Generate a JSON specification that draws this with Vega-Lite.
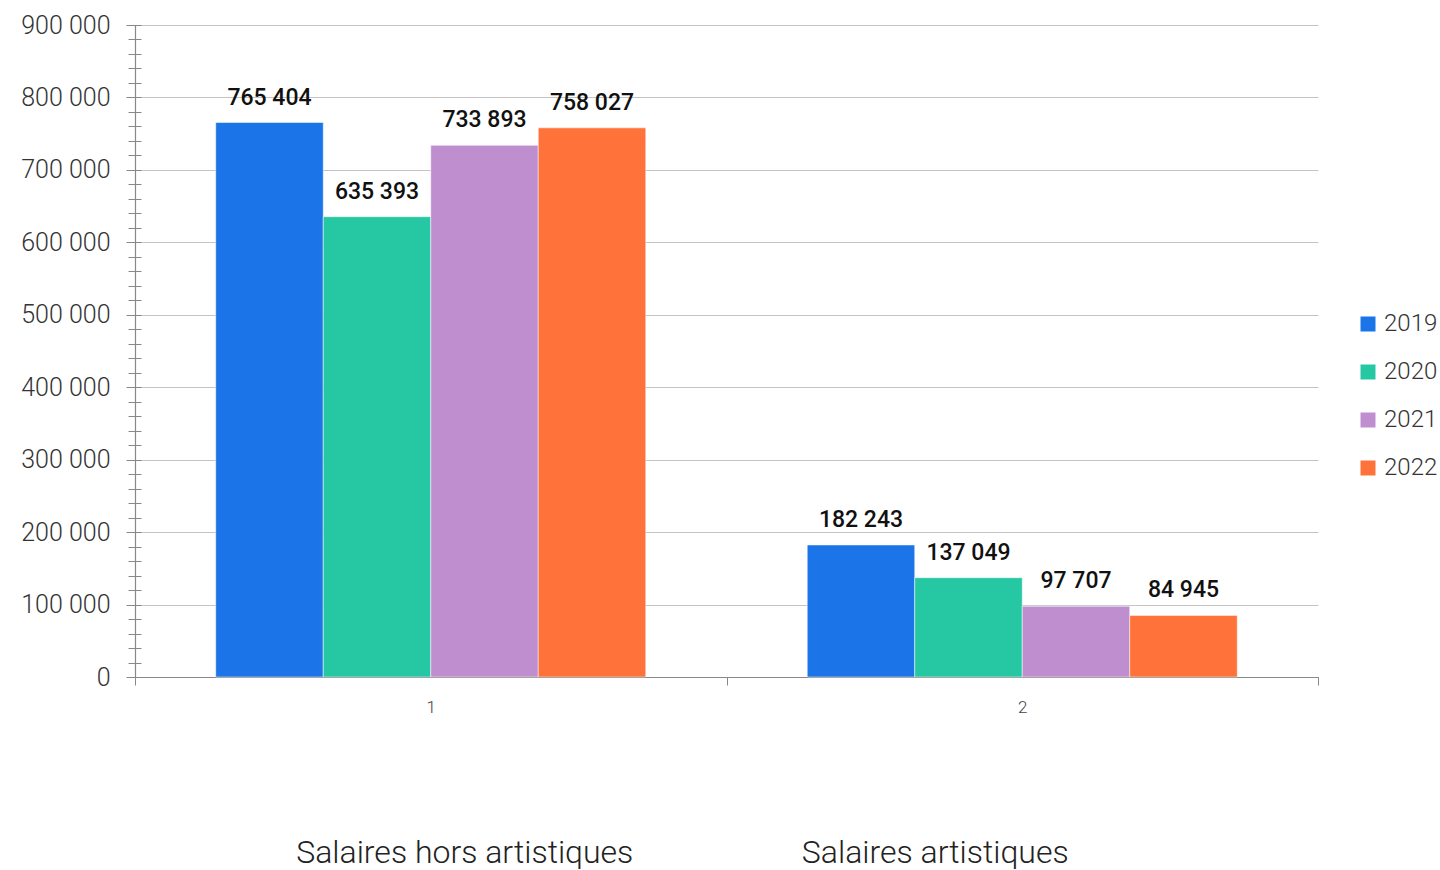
{
  "$schema": "https://vega.github.io/schema/vega-lite/v6.json",
  "autosize": "none",
  "width": 1183,
  "height": 652,
  "padding": {"left": 135, "top": 25, "right": 122, "bottom": 193},
  "background": "white",
  "config": {
    "locale": {"number": {"decimal": ",", "thousands": " ", "grouping": [3], "currency": ["", " €"]}},
    "view": {"stroke": null},
    "font": "Roboto"
  },
  "data": {
    "values": [
      {"group": "1", "category": "Salaires hors artistiques", "year": "2019", "value": 765404},
      {"group": "1", "category": "Salaires hors artistiques", "year": "2020", "value": 635393},
      {"group": "1", "category": "Salaires hors artistiques", "year": "2021", "value": 733893},
      {"group": "1", "category": "Salaires hors artistiques", "year": "2022", "value": 758027},
      {"group": "2", "category": "Salaires artistiques", "year": "2019", "value": 182243},
      {"group": "2", "category": "Salaires artistiques", "year": "2020", "value": 137049},
      {"group": "2", "category": "Salaires artistiques", "year": "2021", "value": 97707},
      {"group": "2", "category": "Salaires artistiques", "year": "2022", "value": 84945}
    ]
  },
  "layer": [
    {
      "mark": {"type": "bar", "stroke": "white", "strokeWidth": 0.5},
      "encoding": {
        "x": {
          "field": "group", "type": "nominal",
          "scale": {"paddingInner": 0, "paddingOuter": 0},
          "axis": {
            "orient": "bottom",
            "title": null, "labelAngle": 0, "tickBand": "extent", "tickSize": 8,
            "tickColor": "#888888", "domainColor": "#888888", "domainWidth": 1.2,
            "labelFont": "Roboto", "labelFontWeight": 300, "labelFontSize": 17,
            "labelColor": "#444444", "labelPadding": 14
          }
        },
        "xOffset": {
          "field": "year", "type": "nominal",
          "scale": {"paddingInner": 0, "paddingOuter": 0.751}
        },
        "y": {
          "field": "value", "type": "quantitative",
          "scale": {"domain": [0, 900000], "nice": false},
          "axis": {
            "title": null, "values": [0, 100000, 200000, 300000, 400000, 500000, 600000, 700000, 800000, 900000],
            "format": ",d", "tickSize": 9, "tickColor": "#888888",
            "domainColor": "#888888", "domainWidth": 1.2,
            "grid": true, "gridColor": "#c4c4c4", "gridWidth": 1.2,
            "labelFont": "Roboto", "labelFontWeight": 300, "labelFontSize": 25,
            "labelColor": "#333333", "labelPadding": 16
          }
        },
        "color": {
          "field": "year", "type": "nominal",
          "scale": {"domain": ["2019", "2020", "2021", "2022"], "range": ["#1b74e8", "#26c8a4", "#bf8ece", "#ff733a"]},
          "legend": {
            "title": null, "orient": "none", "legendX": 1221, "legendY": 287,
            "symbolType": "square", "symbolSize": 225, "symbolStrokeWidth": 0,
            "labelFont": "Roboto", "labelFontWeight": 300, "labelFontSize": 24,
            "labelColor": "#333333", "rowPadding": 24, "labelOffset": 4, "padding": 0
          }
        }
      }
    },
    {
      "mark": {"type": "text", "baseline": "bottom", "dy": -13, "font": "Roboto", "fontWeight": 500, "fontSize": 23, "color": "#111111"},
      "encoding": {
        "x": {
          "field": "group", "type": "nominal",
          "axis": {
            "orient": "bottom",
            "title": null, "labelAngle": 0, "ticks": false, "domain": false, "labelLimit": 0,
            "labelExpr": "datum.value == '1' ? 'Salaires hors artistiques' : 'Salaires artistiques'",
            "labelOffset": {"condition": {"test": "datum.value == '1'", "value": 34}, "value": -87},
            "labelFont": "Roboto", "labelFontWeight": 300, "labelFontSize": 32,
            "labelColor": "#222222", "labelPadding": 160
          }
        },
        "xOffset": {"field": "year", "type": "nominal"},
        "y": {
          "field": "value", "type": "quantitative",
          "axis": {
            "orient": "right", "offset": -1190, "title": null, "labels": false, "domain": false,
            "grid": false, "values": [0, 20000, 40000, 60000, 80000, 100000, 120000, 140000, 160000, 180000, 200000, 220000, 240000, 260000, 280000, 300000, 320000, 340000, 360000, 380000, 400000, 420000, 440000, 460000, 480000, 500000, 520000, 540000, 560000, 580000, 600000, 620000, 640000, 660000, 680000, 700000, 720000, 740000, 760000, 780000, 800000, 820000, 840000, 860000, 880000, 900000],
            "tickSize": 13, "tickColor": "#888888"
          }
        },
        "text": {"field": "value", "type": "quantitative", "format": ",d"}
      }
    }
  ],
  "resolve": {"axis": {"x": "independent", "y": "independent"}}
}
